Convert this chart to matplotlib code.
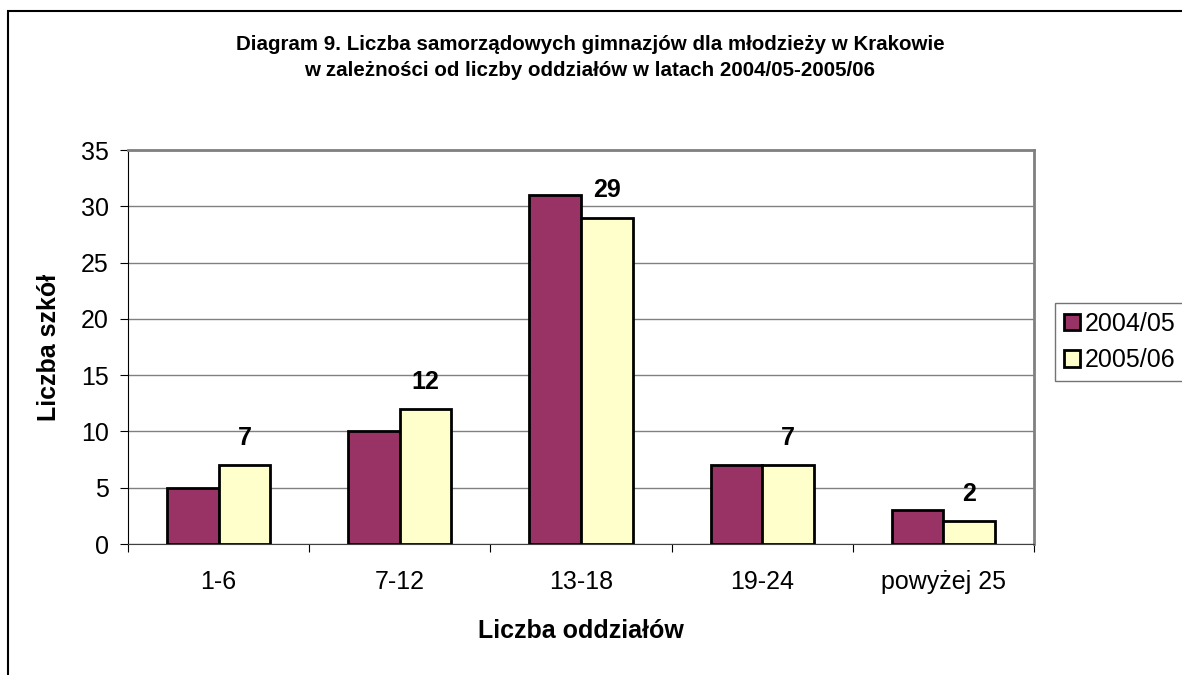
import numpy as np
import matplotlib.pyplot as plt
from matplotlib.patches import Rectangle

plt.rcParams['font.family'] = ['Liberation Sans', 'DejaVu Sans']

# data
categories = ["1-6", "7-12", "13-18", "19-24", "powyżej 25"]
y2004 = [5, 10, 31, 7, 3]
y2005 = [7, 12, 29, 7, 2]
series_names = ["2004/05", "2005/06"]

fig = plt.figure(figsize=(11.82, 6.75), dpi=100)
ax = fig.add_axes([128/1182, 1 - 544/675, (1034-128)/1182, (544-150)/675])

x = np.arange(len(categories))
w = 0.285
b1 = ax.bar(x - w/2, y2004, w, color="#993366", edgecolor="black", linewidth=2, label=series_names[0], zorder=3)
b2 = ax.bar(x + w/2, y2005, w, color="#FFFFCC", edgecolor="black", linewidth=2, label=series_names[1], zorder=3)

# value labels only above the 2005/06 bars
for xi, v in zip(x, y2005):
    ax.annotate(str(v), (xi + w/2, v), xytext=(0, 11), textcoords="offset points",
                ha="center", va="bottom", fontsize=18, fontweight="bold")

ax.set_xlim(-0.5, len(categories) - 0.5)
ax.set_ylim(0, 35)
ax.set_yticks(np.arange(0, 36, 5))
ax.yaxis.grid(True, color="#808080", linewidth=1, zorder=0)
ax.set_axisbelow(True)

# category labels centred, ticks at group boundaries
ax.set_xticks(np.arange(-0.5, len(categories)), minor=False)
ax.set_xticklabels([])
ax.set_xticks(x, minor=True)
ax.set_xticklabels(categories, minor=True, fontsize=18)
ax.tick_params(axis="x", which="minor", length=0, pad=19)
ax.tick_params(axis="x", which="major", length=6, direction="out", color="black")
ax.tick_params(axis="y", length=6, direction="out", labelsize=18, pad=8)

ax.spines["top"].set_color("#808080")
ax.spines["right"].set_color("#808080")
ax.spines["top"].set_linewidth(2)
ax.spines["right"].set_linewidth(2)
ax.spines["left"].set_color("black")
ax.spines["bottom"].set_color("#404040")

ax.set_xlabel("Liczba oddziałów", fontsize=18, fontweight="bold", labelpad=18)
ax.set_ylabel("Liczba szkół", fontsize=18, fontweight="bold", labelpad=14)

fig.text(590/1182, 1 - 45/675, "Diagram 9. Liczba samorządowych gimnazjów dla młodzieży w Krakowie",
         ha="center", va="center", fontsize=14.8, fontweight="bold")
fig.text(590/1182, 1 - 71/675, "w zależności od liczby oddziałów w latach 2004/05-2005/06",
         ha="center", va="center", fontsize=14.8, fontweight="bold")

leg = fig.legend(handles=[b1, b2], loc="upper left", bbox_to_anchor=(1055/1182, 1 - 303/675),
                 fontsize=18, frameon=True, fancybox=False, handlelength=0.65, handleheight=0.65,
                 handletextpad=0.2, borderpad=0.35, labelspacing=0.5, borderaxespad=0)
leg.get_frame().set_edgecolor("#505050")
leg.get_frame().set_linewidth(1)

# outer chart border (cropped at right and bottom)
fig.patches.append(Rectangle((8/1182, -0.1), 1.2, 1 - 11/675 + 0.1, transform=fig.transFigure,
                             fill=False, edgecolor="black", linewidth=1.5))

fig.savefig("out.png", dpi=100)
